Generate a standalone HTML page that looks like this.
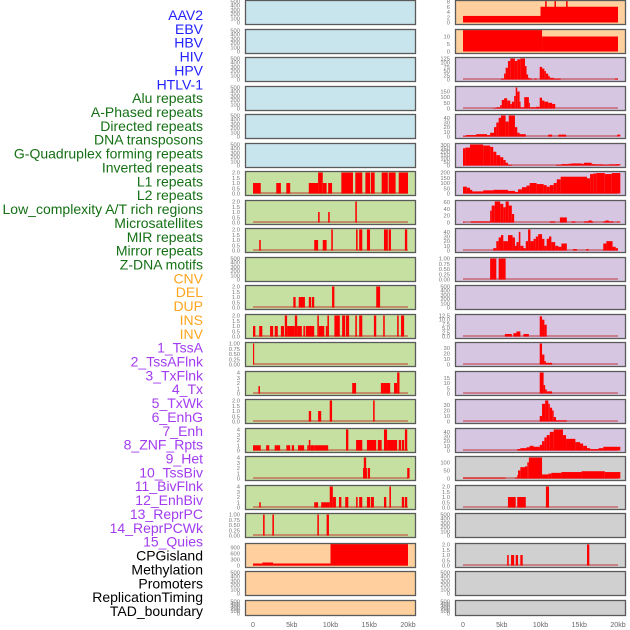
<!DOCTYPE html>
<html><head><meta charset="utf-8">
<style>
html,body{margin:0;padding:0;background:#fff;}
svg{display:block;font-family:"Liberation Sans",sans-serif;}
</style></head>
<body>
<svg id="chart" width="630" height="630" viewBox="0 0 630 630" xmlns="http://www.w3.org/2000/svg"></svg>
<script>
// ---- data ----
const labels = ["AAV2","EBV","HBV","HIV","HPV","HTLV-1","Alu repeats","A-Phased repeats","Directed repeats","DNA transposons","G-Quadruplex forming repeats","Inverted repeats","L1 repeats","L2 repeats","Low_complexity A/T rich regions","Microsatellites","MIR repeats","Mirror repeats","Z-DNA motifs","CNV","DEL","DUP","INS","INV","1_TssA","2_TssAFlnk","3_TxFlnk","4_Tx","5_TxWk","6_EnhG","7_Enh","8_ZNF_Rpts","9_Het","10_TssBiv","11_BivFlnk","12_EnhBiv","13_ReprPC","14_ReprPCWk","15_Quies","CPGisland","Methylation","Promoters","ReplicationTiming","TAD_boundary"];
const labelGroupSizes = [6,13,5,15,5];
const labelGroupColors = ["#2222ff","#157015","#ffa520","#a23cf0","#000000"];
const xTicks = [0,5,10,15,20];
const xTickLabels = ["0","5kb","10kb","15kb","20kb"];

const T500 = [0,100,200,300,400,500];
const T2 = [0,0.5,1,1.5,2];
const T4 = [0,1,2,3,4];
const T1 = [0,0.25,0.5,0.75,1];

const leftTicks = [T500,T500,T500,T500,T500,T500,T2,T2,T2,T500,T2,T2,T1,T4,T2,T4,T4,T4,T1,[0,300,600,900],T500,T500];
const leftTop = [500,500,500,500,500,500,2,2,2,500,2,2,1,4,2,4,4,4,1,1050,500,500];
const leftBg = ["blue","blue","blue","blue","blue","blue","green","green","green","green","green","green","green","green","green","green","green","green","green","peach","peach","peach"];
const leftSegs = [
 [],[],[],[],[],[],
 [[0,1,1],[3,3.6,1],[4.3,4.8,1],[7.2,8.4,1],[8.4,9,2],[9,9.5,1],[9.7,10.2,1],[11.4,12.9,2],[13.2,14.1,2],[14.5,15.1,2],[15.2,15.7,2],[16.6,17.4,2],[17.5,18.4,2],[18.8,20,2]],
 [[8.4,8.6,1],[9.7,9.9,1],[13.2,13.4,2]],
 [[0.8,1,1],[7.9,8.4,1],[9,9.5,1],[10.1,10.3,2],[13.3,13.5,2],[13.7,14.1,2],[14.7,15.1,2],[16.9,17.4,2],[17.5,17.8,2],[19.6,19.9,2]],
 [],
 [[5.2,5.5,1],[5.9,6.7,1],[7.2,7.5,1],[7.6,7.9,1],[10.2,10.5,2],[15.9,16.4,2]],
 [[0,0.3,1],[0.8,1.2,1],[2.2,2.6,1],[2.8,3.2,1],[3.6,4,1],[4.1,4.4,2],[4.4,5.4,1],[5.4,5.7,2],[5.7,6.3,1],[6.5,6.7,1],[6.8,7.9,1],[8.3,8.5,2],[8.5,9.2,1],[9.4,9.6,1],[9.6,9.8,2],[10.5,11.2,2],[11.5,11.9,2],[12,12.4,2],[13.2,13.4,2],[13.7,14.1,2],[15.6,15.9,2],[16.8,17,2],[18.6,18.8,2],[19.1,19.5,2]],
 [[0,0.15,1]],
 [[0.7,0.9,1.4],[12.8,13.3,2],[16.5,16.9,2],[16.9,17.7,2],[18.2,18.6,2],[18.6,18.9,4]],
 [[7.2,7.5,1],[8.4,8.8,1],[9.9,10.2,2],[15.5,15.7,2]],
 [[0,1,1],[1.7,2.1,1],[2.8,3.5,1],[4.3,4.8,1],[5,5.3,1],[5.8,6.6,1],[7,7.2,1],[7.2,7.4,2],[7.4,7.9,1],[7.9,9.7,1],[12,12.3,4],[13.3,14.1,2],[14.7,15.9,2],[16.1,16.6,2],[16.9,17.3,4],[17.3,18.6,2],[18.8,19.1,2],[19.2,19.5,2],[19.6,19.9,4]],
 [[14.2,14.7,2],[14.3,14.6,4],[14.8,15.1,2],[19.9,20.2,2]],
 [[0.8,1,1],[7.9,8.4,1],[8.8,9.9,1],[9.9,10.3,4],[10.3,10.7,2],[11.1,11.4,2],[11.9,12.3,2],[13.3,13.5,2],[13.7,14.1,2],[14.7,15.1,2],[15.2,15.6,2],[16.9,17.2,2],[17.6,17.8,4],[19.2,19.5,2],[19.6,19.9,2]],
 [[1.3,1.5,1],[2.5,2.7,1],[8.3,8.5,1],[9.5,9.8,1]],
 [[0,1.2,100],[1.2,2.6,150],[2.6,10,100],[10,20,1100]],
 [],[]
];

const rightTicks = [[0,2,4,6,8],[0,5,10],[0,25,50,75,100,125],[0,50,100,150],[0,10,20,30,40],[0,50,100,150,200,250,300],[0,50,100,150,200],[0,20,40,60],[0,10,20,30,40],T1,T500,[0,2.5,5,7.5,10,12.5],[0,10,20,30],[0,5,10,15],[0,10,20,30],[0,10,20,30,40],[0,50,100],T2,T500,T2,T500,T500];
const rightTop = [8,14,125,185,45,305,200,62,45,1,500,12.5,38,20,38,45,130,2,500,2,500,500];
const rightBg = ["peach","peach","purple","purple","purple","purple","purple","purple","purple","purple","purple","purple","purple","purple","purple","purple","grey","grey","grey","grey","grey","grey"];
const rightSegs = [
 [[0,10,2.5],[10,20,6],[10.6,10.8,9],[11.8,12,9],[13.3,13.5,9]],
 [[0,10.2,15],[10.2,20,10]],
 [[4.9,5.3,5],[5.3,5.5,35],[5.5,5.8,70],[5.8,6.1,110],[6.1,6.7,125],[6.7,7,110],[7,7.4,120],[7.4,8,125],[8,8.2,80],[8.2,8.4,30],[8.4,8.6,10],[8.6,8.9,5],[9.2,9.5,5],[9.9,10.2,75],[10.2,10.5,65],[10.5,10.7,50],[10.7,11,35],[11,11.2,20],[11.2,11.7,10],[11.7,12.6,5],[19.6,20,5]],
 [[3.9,4.3,5],[4.3,4.8,10],[4.8,5,30],[5,5.3,75],[5.3,5.7,90],[5.7,6.1,70],[6.1,6.3,40],[6.3,6.6,60],[6.6,6.8,110],[6.8,7,185],[7,7.3,150],[7.3,7.4,60],[7.4,7.9,10],[7.9,8.5,100],[8.5,8.6,50],[8.6,9.4,10],[9.4,9.9,15],[9.9,10.2,95],[10.2,10.5,70],[10.5,11,60],[11,11.5,50],[11.5,11.9,40]],
 [[0,0.4,1],[0.4,1.7,3],[1.7,3.1,5],[3.1,3.5,3],[3.5,4,8],[4,4.3,20],[4.3,4.6,30],[4.6,4.9,40],[4.9,5.5,45],[5.5,5.9,32],[5.9,6.7,45],[6.7,7,20],[7,7.3,8],[7.3,8.1,5],[11,11.5,4],[12.3,13.3,4],[19.9,20.3,4]],
 [[0,0.3,250],[0.3,0.9,260],[0.9,2.6,305],[2.6,3.5,290],[3.5,3.9,270],[3.9,4.3,200],[4.3,4.8,150],[4.8,5.2,120],[5.2,5.5,80],[5.5,5.8,40],[5.8,6.3,10],[12,12.7,10],[12.7,13.6,20],[13.6,14,25],[14,15.3,30],[15.3,15.6,25],[15.6,16.6,40],[16.6,17,20],[17,18.1,15],[18.1,18.8,10],[18.8,19.8,15],[19.8,20.3,20]],
 [[0,0.5,65],[0.5,0.9,55],[0.9,1.2,35],[1.2,2.6,20],[2.6,3.9,30],[3.9,5.8,35],[5.8,6.7,25],[6.7,7.1,15],[7.1,7.6,40],[7.6,8.2,60],[8.2,8.6,75],[8.6,9.5,100],[9.5,10.4,90],[10.4,10.8,80],[10.8,11.2,65],[11.2,11.7,80],[11.7,12.1,100],[12.1,12.6,135],[12.6,16,160],[16,16.4,145],[16.4,16.8,185],[16.8,17.2,190],[17.2,18.3,195],[18.3,19.2,185],[19.2,20.3,195]],
 [[0,0.2,2],[1,3.5,3],[3.5,3.7,35],[3.7,4.1,50],[4.1,4.8,62],[4.8,5.2,55],[5.2,5.5,45],[5.5,5.9,62],[5.9,6.3,50],[6.3,6.6,25],[11.2,11.9,3],[12.5,13.4,15],[14,14.5,3],[15.6,16.8,3],[16.2,16.6,6],[18.1,19.4,3],[18.4,18.8,6],[19.9,20.3,3]],
 [[3.9,4.3,5],[4.3,4.6,20],[4.6,4.9,28],[4.9,5.2,33],[5.2,5.8,20],[5.8,6.4,33],[6.4,6.7,28],[6.7,6.9,10],[6.9,7.2,18],[7.2,7.4,40],[7.4,7.8,10],[7.8,8.1,5],[8.1,8.4,20],[8.4,8.7,45],[8.7,9.1,20],[9.1,9.4,25],[9.4,9.7,30],[9.7,10.2,35],[10.2,10.5,25],[10.5,10.8,10],[10.8,11.1,25],[11.1,11.4,30],[11.4,11.9,18],[11.9,12.3,10],[12.3,12.7,8],[12.7,13.4,15],[14.2,14.7,3],[15.9,16.2,3],[18.1,18.5,15],[18.5,19.3,20],[19.3,19.7,8],[19.7,20,5]],
 [[3.5,4.3,1],[4.6,5.5,1]],
 [],
 [[5.4,6.3,1.5],[6.5,6.9,2],[6.9,7.4,3],[7.8,8.5,1.5],[9.9,10.2,12],[10.2,10.5,10],[10.5,10.8,7]],
 [[9.9,10.2,38],[10.2,10.5,18],[10.5,10.7,6],[10.7,11.5,3]],
 [[9.9,10.4,20],[10.4,10.6,8],[10.6,10.8,4],[10.8,11.5,2]],
 [[9.9,10.2,10],[10.2,10.6,32],[10.6,11,38],[11,11.2,32],[11.2,11.5,25],[11.5,11.7,20],[11.7,12,8],[12,13.4,2]],
 [[7,7.4,3],[7.4,8.2,5],[8.2,8.6,7],[8.6,9.1,10],[9.1,9.9,8],[9.9,10.2,12],[10.2,10.5,20],[10.5,10.8,28],[10.8,11.2,33],[11.2,11.7,40],[11.7,12.9,45],[12.9,13.3,33],[13.3,14.5,25],[14.5,15.1,18],[15.1,15.5,15],[15.5,16,10],[16,16.4,5],[16.4,17.5,3],[17.5,18.1,5],[18.1,20.3,8]],
 [[0,5.5,5],[6.7,7,5],[7,7.1,20],[7.1,7.4,50],[7.4,8,70],[8,8.3,75],[8.3,8.5,100],[8.5,10.2,130],[10.2,11,25],[11,11.4,30],[11.4,12.7,35],[12.7,15.3,40],[15.3,18.3,45],[18.3,20.3,40]],
 [[5.8,6.8,1],[7,8.1,1],[10.7,11.1,2]],
 [],
 [[5.7,5.9,1],[6.2,6.6,1],[6.8,7.1,1],[7.4,7.7,1],[16,16.3,2]],
 [],[]
];

// ---- layout ----
const rowY = [0,29,57,86,114,143,171,200,228,257,285,314,342,371,399,428,456,485,513,543,571,600];
const rowH = 25, lastH = 16;
const bgColors = {blue:"#c8e4ec",green:"#c6e0a2",peach:"#ffd09e",purple:"#d6c6e2",grey:"#d0d0d0"};
const NS = "http://www.w3.org/2000/svg";
const svg = document.getElementById("chart");
function mk(tag, attrs, parent){ const e=document.createElementNS(NS,tag); for(const k in attrs) e.setAttribute(k,attrs[k]); (parent||svg).appendChild(e); return e; }

// labels
let gi=0, cnt=0;
labels.forEach((t,i)=>{
  while(cnt>=labelGroupSizes[gi]){ gi++; cnt=0; }
  cnt++;
  const e=mk("text",{x:203,y:15+i*13.86+5,"text-anchor":"end","font-size":"14",fill:labelGroupColors[gi]});
  e.textContent=t;
  
  
});

function fmt(v, ticks){
  const dec = ticks.some(x=>Math.abs(x*4-Math.round(x*4))<1e-9 && x%0.5!==0) ? 2 : ticks.some(x=>x%1!==0) ? 1 : 0;
  return v.toFixed(dec);
}

function drawPanel(side, r, ticks, top, bg, segs){
  const x0 = side==="L"?245:455, x1 = side==="L"?416:626;
  const xs = kb => (side==="L"?253:463) + kb*7.75;
  const y = rowY[r], h = (r===rowY.length-1)?lastH:rowH;
  const yb = y+h-2.5, yt = y+1.5;
  const ys = v => yb - Math.min(v,top*1.02)/top*(yb-yt);
  const g = mk("g",{});
  
  
  const bgr = mk("rect",{x:x0,y:y,width:x1-x0,height:h,fill:bgColors[bg]},g);
  
  
  if(segs.length>0 && r>1){
    const bl = mk("rect",{x:xs(0),y:yb-1.5,width:xs(20)-xs(0),height:2,fill:"rgba(190,40,40,0.45)"},g);
    
    
  }
  segs.forEach(s=>{
    const b = mk("rect",{x:xs(s[0]),y:ys(s[2]),width:Math.max(1,xs(s[1])-xs(s[0])),height:yb-ys(s[2]),fill:"#ff0000"},g);
    
    
  });
  const br = mk("rect",{x:x0+0.5,y:y+0.5,width:x1-x0-1,height:h-1,fill:"none",stroke:"#5a5a5a","stroke-width":1.3},g);
  
  
  ticks.forEach(tv=>{
    const ty = yb - tv/top*(yb-yt);
    const t = mk("text",{x:x0-5,y:ty+2,"text-anchor":"end","font-size":"5.8",fill:"#777"},g);
    t.textContent = fmt(tv,ticks);
    
    
  });
}

for(let r=0;r<rowY.length;r++){
  drawPanel("L", r, leftTicks[r], leftTop[r], leftBg[r], leftSegs[r]);
  drawPanel("R", r, rightTicks[r], rightTop[r], rightBg[r], rightSegs[r]);
}

["L","R"].forEach(side=>{
  xTicks.forEach((kb,i)=>{
    const x = (side==="L"?253:463) + kb*7.75;
    const t = mk("text",{x:x,y:627,"text-anchor":"middle","font-size":"7",fill:"#666"});
    t.textContent = xTickLabels[i];
    
    
  });
});
</script>
</body></html>
